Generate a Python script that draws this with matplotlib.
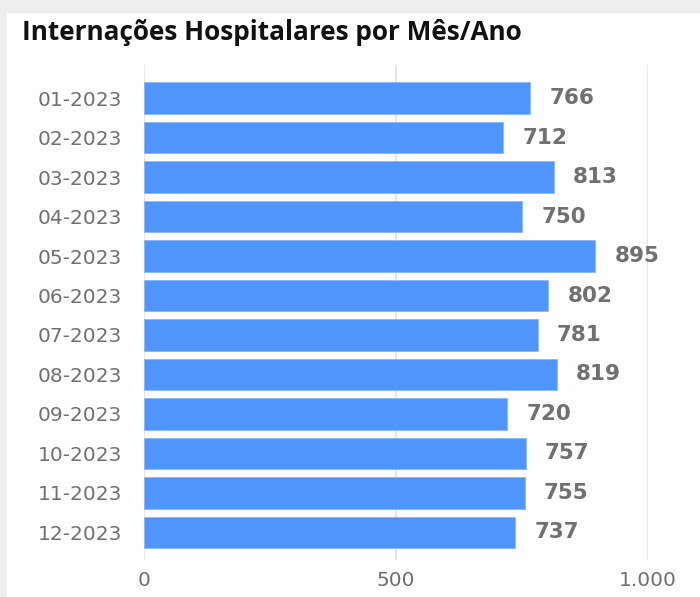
import matplotlib.pyplot as plt
from matplotlib.patches import Rectangle

plt.rcParams['font.family'] = ['DejaVu Sans']

months = ['01-2023', '02-2023', '03-2023', '04-2023', '05-2023', '06-2023',
          '07-2023', '08-2023', '09-2023', '10-2023', '11-2023', '12-2023']
admissions = [766, 712, 813, 750, 895, 802, 781, 819, 720, 757, 755, 737]
xticks = [0, 500, 1000]
xtick_labels = ['0', '500', '1.000']


def main():
    fig = plt.figure(figsize=(7.0, 5.97), dpi=100, facecolor='#eeeeee')
    # white card over the gray shadow
    fig.patches.append(Rectangle((7 / 700, 0), 1, 1 - 13 / 597, transform=fig.transFigure,
                                 facecolor='white', edgecolor='none', zorder=-10))

    ax = fig.add_axes([144 / 700, 1 - 560 / 597, 504 / 700, 495 / 597])
    ax.set_zorder(5)
    ax.set_facecolor('none')
    y = list(range(len(months)))
    ax.barh(y, admissions, height=0.8, color='#4f95fb', edgecolor='#8ab8fb', linewidth=0.6, zorder=2)

    for yi, v in zip(y, admissions):
        ax.annotate(str(v), xy=(v, yi), xytext=(14, 0), textcoords='offset points',
                    va='center', ha='left', fontsize=15.5, fontweight='bold',
                    color='#707070', annotation_clip=False)

    ax.set_xlim(0, 1000)
    ax.set_ylim(11.7, -0.84)
    ax.set_yticks(y)
    ax.set_yticklabels(months)
    ax.set_xticks(xticks)
    ax.set_xticklabels(xtick_labels)
    ax.tick_params(axis='both', length=0, labelsize=14.5, colors='#707070')
    ax.tick_params(axis='y', pad=16)
    ax.tick_params(axis='x', pad=8)
    ax.grid(axis='x', color='#e2e2e2', linewidth=1.2, zorder=0)
    for s in ax.spines.values():
        s.set_visible(False)

    fig.text(22 / 700, 1 - 40 / 597, 'Internações Hospitalares por Mês/Ano',
             fontsize=18.8, fontweight='bold', color='#111111', va='baseline', ha='left',
             family='Open Sans')

    fig.savefig('out.png', dpi=100, facecolor=fig.get_facecolor())


if __name__ == '__main__':
    main()
